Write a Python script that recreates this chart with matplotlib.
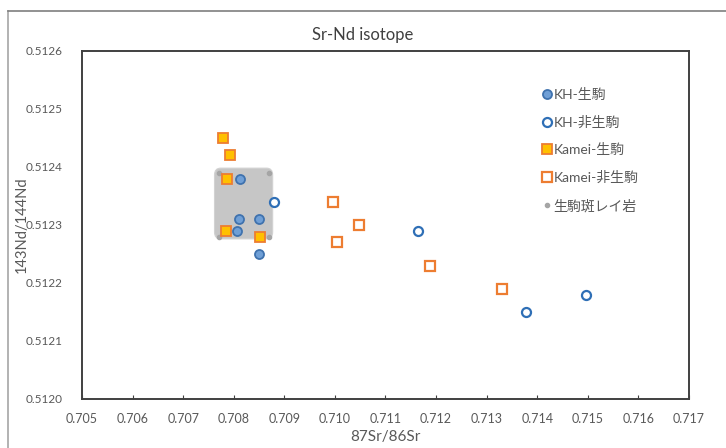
import matplotlib.pyplot as plt
from matplotlib.patches import FancyBboxPatch
from matplotlib.lines import Line2D

plt.rcParams['font.family'] = ['Lato', 'Noto Sans CJK JP', 'DejaVu Sans']

# KH-生駒 (filled circles)
kh_ikoma_x = [0.70812, 0.70810, 0.70850, 0.70806, 0.70850]
kh_ikoma_y = [0.51238, 0.51231, 0.51231, 0.51229, 0.51225]

# KH-非生駒 (open circles)
kh_non_x = [0.70880, 0.71165, 0.71497, 0.71377]
kh_non_y = [0.51234, 0.51229, 0.51218, 0.51215]

# Kamei-生駒 (filled squares)
kamei_ikoma_x = [0.70778, 0.70793, 0.70787, 0.70785, 0.70852]
kamei_ikoma_y = [0.51245, 0.51242, 0.51238, 0.51229, 0.51228]

# Kamei-非生駒 (open squares)
kamei_non_x = [0.70997, 0.71047, 0.71005, 0.71188, 0.71330]
kamei_non_y = [0.51234, 0.51230, 0.51227, 0.51223, 0.51219]

# 生駒斑レイ岩 (small gray dots)
gabbro_x = [0.70770, 0.70869, 0.70770, 0.70869]
gabbro_y = [0.51239, 0.51239, 0.51228, 0.51228]

xticks = [0.705 + 0.001 * i for i in range(13)]
yticks = [0.5120 + 0.0001 * i for i in range(7)]

fig = plt.figure(figsize=(7.26, 4.48), dpi=100)
ax = fig.add_axes([0.1129, 0.1094, 0.8361, 0.7768])

# outer chart frame
fig.add_artist(Line2D([8 / 726, 8 / 726], [0, 1 - 11 / 448], transform=fig.transFigure,
                      color='#a6a6a6', lw=1.2))
fig.add_artist(Line2D([8 / 726, 1], [1 - 11 / 448, 1 - 11 / 448], transform=fig.transFigure,
                      color='#7f7f7f', lw=1.2))

# gray box around gabbro field
gx0, gx1 = min(gabbro_x), max(gabbro_x)
gy0, gy1 = min(gabbro_y), max(gabbro_y)
box = FancyBboxPatch((gx0 - 0.00008, gy0 - 0.000004), (gx1 - gx0) + 0.00016, (gy1 - gy0) + 0.000012,
                     boxstyle='round,pad=0,rounding_size=0.00012', mutation_aspect=0.1,
                     facecolor='#c6c6c6', edgecolor='#d2d2d2', lw=0.8, zorder=1)
ax.add_patch(box)

ax.plot(gabbro_x, gabbro_y, 'o', ms=3, color='#a5a5a5', mec='#a5a5a5', ls='none',
        label='生駒斑レイ岩', zorder=2)
ax.plot(kh_ikoma_x, kh_ikoma_y, 'o', ms=6.5, mfc='#6f9fd6', mec='#3f72ae', mew=1.3, ls='none',
        label='KH-生駒', zorder=3)
ax.plot(kh_non_x, kh_non_y, 'o', ms=6.5, mfc='white', mec='#2f6fb6', mew=1.6, ls='none',
        label='KH-非生駒', zorder=3)
ax.plot(kamei_ikoma_x, kamei_ikoma_y, 's', ms=6.8, mfc='#ffc000', mec='#ed7d31', mew=1.3, ls='none',
        label='Kamei-生駒', zorder=3)
ax.plot(kamei_non_x, kamei_non_y, 's', ms=6.8, mfc='white', mec='#ed7d31', mew=1.6, ls='none',
        label='Kamei-非生駒', zorder=3)

ax.set_xlim(0.705, 0.717)
ax.set_ylim(0.5120, 0.5126)
ax.set_xticks(xticks)
ax.set_xticklabels([f'{v:.3f}' for v in xticks])
ax.set_yticks(yticks)
ax.set_yticklabels([f'{v:.4f}' for v in yticks])
ax.tick_params(axis='x', direction='in', length=3, color='#404040', labelsize=9,
               labelcolor='#595959', pad=10)
ax.tick_params(axis='y', length=0, labelsize=8.5, labelcolor='#595959', pad=14)
for s in ax.spines.values():
    s.set_color('#404040')
    s.set_linewidth(1.4)

ax.set_xlabel('87Sr/86Sr', fontsize=11, color='#595959')
ax.set_ylabel('143Nd/144Nd', fontsize=10.5, color='#595959')
ax.xaxis.set_label_coords(0.5, -0.109)
ax.yaxis.set_label_coords(-0.1, 0.5)
ax.xaxis.label.set_va('center')
ax.yaxis.label.set_va('center')
fig.text(0.5, 1 - 35 / 448, 'Sr-Nd isotope', ha='center', va='center', fontsize=12, color='#404040')

h, l = ax.get_legend_handles_labels()
order = [1, 2, 3, 4, 0]
ax.legend([h[i] for i in order], [l[i] for i in order], loc='upper left',
          bbox_to_anchor=(0.745, 0.91), frameon=False, fontsize=10, labelcolor='#595959',
          handletextpad=0.0, handlelength=1.0, labelspacing=1.05, borderaxespad=0)

fig.savefig('out.png', dpi=100)
